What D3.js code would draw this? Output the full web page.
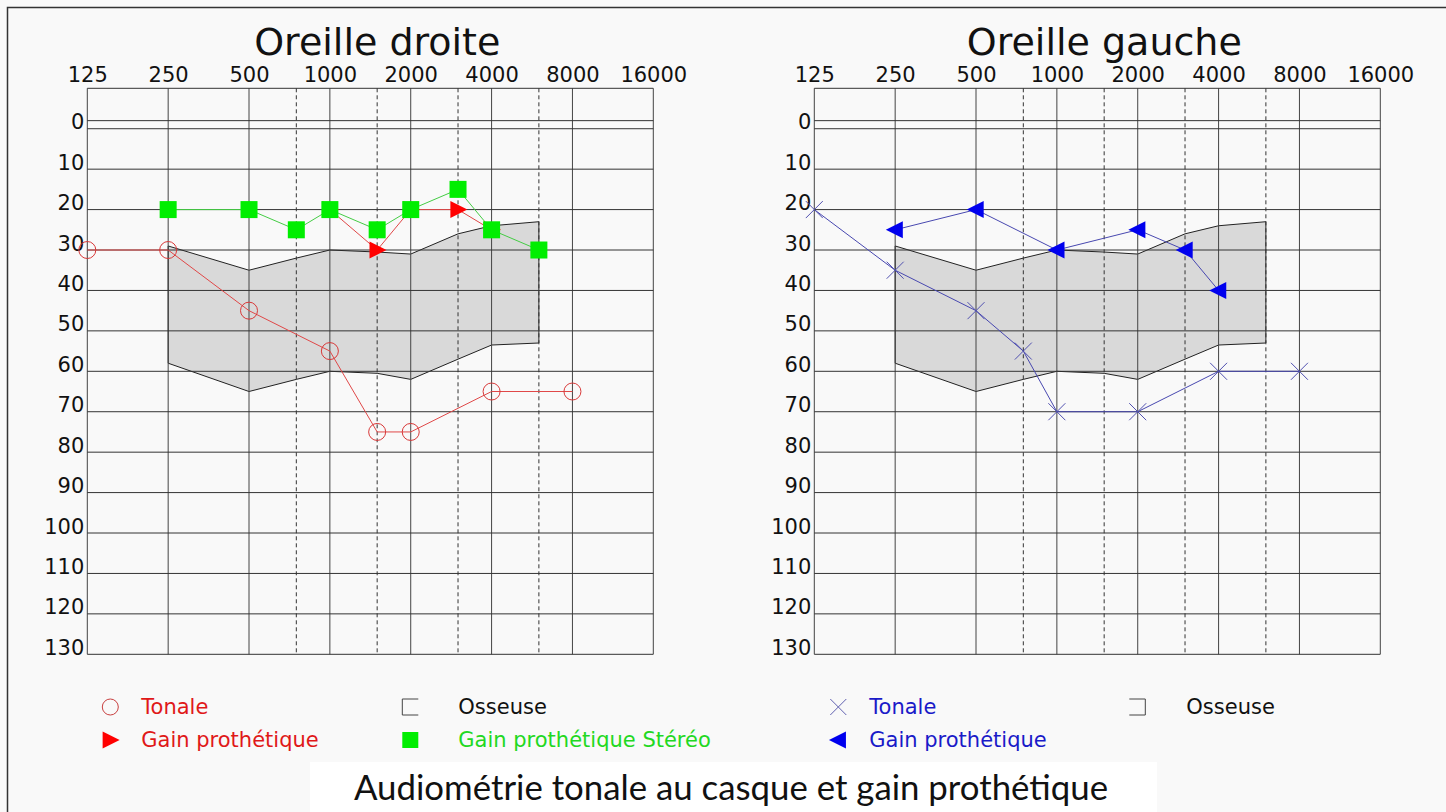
<!DOCTYPE html>
<html>
<head>
<meta charset="utf-8">
<script src="https://cdn.jsdelivr.net/npm/d3@7"></script>
<style>
	body { margin: 0; background: #f9f9f9; }
	svg { display: block; font-family: 'DejaVu Sans', sans-serif; }
	.tick text { font-family: 'DejaVu Sans', sans-serif; font-size: 21px; fill: #111; }
</style>
</head>
<body>
<svg width="1446" height="812"></svg>
<script>
// frequencies (Hz) and hearing levels (dB)
const freqTicks = [125, 250, 500, 1000, 2000, 4000, 8000, 16000];
const halfOctaves = [750, 1500, 3000, 6000];
const dbTicks = [0, 10, 20, 30, 40, 50, 60, 70, 80, 90, 100, 110, 120, 130];

// grey speech zone
const zoneFreqs = [250, 500, 750, 1000, 1500, 2000, 3000, 4000, 6000];
const zoneTop = [29, 35, 32, 30, 30.5, 31, 26, 24, 23];
const zoneBottom = [58, 65, 62, 60, 60.5, 62, 57, 53.5, 53];

// right ear
const rightToneFreqs = [125, 250, 500, 1000, 1500, 2000, 4000, 8000];
const rightToneDb = [30, 30, 45, 55, 75, 75, 65, 65];
const rightGainFreqs = [1000, 1500, 2000, 3000, 4000];
const rightGainDb = [20, 30, 20, 20, 25];
const stereoFreqs = [250, 500, 750, 1000, 1500, 2000, 3000, 4000, 6000];
const stereoDb = [20, 20, 25, 20, 25, 20, 15, 25, 30];

// left ear
const leftToneFreqs = [125, 250, 500, 750, 1000, 2000, 4000, 8000];
const leftToneDb = [20, 35, 45, 55, 70, 70, 60, 60];
const leftGainFreqs = [250, 500, 1000, 2000, 3000, 4000];
const leftGainDb = [25, 20, 30, 25, 30, 40];

const zip = (fs, ds) => fs.map((f, i) => ({f, db: ds[i]}));

const svg = d3.select('svg');
const width = +svg.attr('width');
const height = +svg.attr('height');

const size = 566;
const RED = '#ff0000', GREEN = '#00ee00', BLUE = '#0000ee';

// outer frame, runs off the right and bottom edges
svg.append('rect')
	.attr('x', 7.5).attr('y', 7.5)
	.attr('width', width).attr('height', height)
	.attr('fill', '#f9f9f9')
	.attr('stroke', '#333')
	.attr('stroke-width', 1.5);

const xScale = d3.scaleLog().base(2)
	.domain([125, 16000])
	.range([0, size]);

const yScale = d3.scaleLinear()
	.domain([-10, 130])
	.range([0, size]);

const trianglePath = (dir, s) => dir > 0
	? `M${-s * 0.45},${-s / 2}L${s * 0.55},0L${-s * 0.45},${s / 2}Z`
	: `M${s * 0.45},${-s / 2}L${-s * 0.55},0L${s * 0.45},${s / 2}Z`;

const drawPanel = (x0, title) => {
	const g = svg.append('g')
		.attr('transform', `translate(${x0}, 88.3)`);

	g.append('text')
		.attr('x', size / 2 + 7)
		.attr('y', -33)
		.attr('text-anchor', 'middle')
		.attr('font-size', 38)
		.attr('fill', '#111')
		.text(title);

	const zone = zoneFreqs.map((f, i) => [xScale(f), yScale(zoneTop[i])])
		.concat(zoneFreqs.map((f, i) => [xScale(f), yScale(zoneBottom[i])]).reverse());
	g.append('path')
		.attr('d', d3.line()(zone) + 'Z')
		.attr('fill', '#d9d9d9')
		.attr('stroke', '#222')
		.attr('stroke-width', 1);

	g.selectAll('.vgrid').data(freqTicks).enter().append('line')
		.attr('x1', d => xScale(d)).attr('x2', d => xScale(d))
		.attr('y1', 0).attr('y2', size)
		.attr('stroke', '#444').attr('stroke-width', 1);

	g.selectAll('.vhalf').data(halfOctaves).enter().append('line')
		.attr('x1', d => xScale(d)).attr('x2', d => xScale(d))
		.attr('y1', 0).attr('y2', size)
		.attr('stroke', '#333').attr('stroke-width', 1)
		.attr('stroke-dasharray', '4,3');

	g.selectAll('.hgrid').data([-10, -2].concat(dbTicks)).enter().append('line')
		.attr('x1', 0).attr('x2', size)
		.attr('y1', d => yScale(d)).attr('y2', d => yScale(d))
		.attr('stroke', '#333').attr('stroke-width', 1);

	const xAxisG = g.append('g')
		.call(d3.axisTop(xScale)
			.tickValues(freqTicks)
			.tickFormat(d3.format('d'))
			.tickSize(0)
			.tickPadding(6));
	xAxisG.select('.domain').remove();

	const yAxisG = g.append('g')
		.call(d3.axisLeft(yScale)
			.tickValues(dbTicks)
			.tickSize(0)
			.tickPadding(3));
	yAxisG.select('.domain').remove();
	yAxisG.selectAll('text').attr('dy', 0);

	return g;
};

const lineGen = d3.line()
	.x(d => xScale(d.f))
	.y(d => yScale(d.db));

// Oreille droite
const gR = drawPanel(87.3, 'Oreille droite');
const rightTone = zip(rightToneFreqs, rightToneDb);
const rightGain = zip(rightGainFreqs, rightGainDb);
const stereo = zip(stereoFreqs, stereoDb);

gR.append('path').attr('d', lineGen(rightTone))
	.attr('fill', 'none').attr('stroke', '#e04848').attr('stroke-width', 1);
gR.selectAll('.tone').data(rightTone).enter().append('circle')
	.attr('cx', d => xScale(d.f)).attr('cy', d => yScale(d.db))
	.attr('r', 8.5)
	.attr('fill', 'none').attr('stroke', '#d83838').attr('stroke-width', 1);

gR.append('path').attr('d', lineGen(rightGain))
	.attr('fill', 'none').attr('stroke', '#e04848').attr('stroke-width', 1);
gR.append('path').attr('d', lineGen(stereo))
	.attr('fill', 'none').attr('stroke', '#44cc44').attr('stroke-width', 1);
gR.selectAll('.gain').data(rightGain).enter().append('path')
	.attr('transform', d => `translate(${xScale(d.f)}, ${yScale(d.db)})`)
	.attr('d', trianglePath(1, 17))
	.attr('fill', RED);
gR.selectAll('.stereo').data(stereo).enter().append('rect')
	.attr('x', d => xScale(d.f) - 8.5).attr('y', d => yScale(d.db) - 8.5)
	.attr('width', 17).attr('height', 17)
	.attr('fill', GREEN);

// Oreille gauche
const gL = drawPanel(814.3, 'Oreille gauche');
const leftTone = zip(leftToneFreqs, leftToneDb);
const leftGain = zip(leftGainFreqs, leftGainDb);

gL.append('path').attr('d', lineGen(leftTone))
	.attr('fill', 'none').attr('stroke', '#4848b0').attr('stroke-width', 1);
gL.selectAll('.tone').data(leftTone).enter().append('path')
	.attr('transform', d => `translate(${xScale(d.f)}, ${yScale(d.db)})`)
	.attr('d', 'M-8.5,-8.5L8.5,8.5M-8.5,8.5L8.5,-8.5')
	.attr('stroke', '#5050b0').attr('stroke-width', 1);
gL.append('path').attr('d', lineGen(leftGain))
	.attr('fill', 'none').attr('stroke', '#4848b0').attr('stroke-width', 1);
gL.selectAll('.gain').data(leftGain).enter().append('path')
	.attr('transform', d => `translate(${xScale(d.f)}, ${yScale(d.db)})`)
	.attr('d', trianglePath(-1, 17))
	.attr('fill', BLUE);

// legends
const legend = (x0, items) => {
	const lg = svg.append('g').attr('transform', `translate(${x0}, 0)`);
	items.forEach(it => {
		const s = lg.append('g').attr('transform', `translate(${it.sx}, ${it.y})`);
		it.sym(s);
		lg.append('text')
			.attr('x', it.tx).attr('y', it.y + 7)
			.attr('font-size', 21)
			.attr('fill', it.color)
			.text(it.label);
	});
};

legend(87.3, [
	{sx: 23, tx: 54, y: 707, color: '#e01818', label: 'Tonale',
		sym: s => s.append('circle').attr('r', 8).attr('fill', 'none').attr('stroke', '#c84040')},
	{sx: 23, tx: 54, y: 740, color: '#e01818', label: 'Gain prothétique',
		sym: s => s.append('path').attr('d', trianglePath(1, 17)).attr('fill', RED)},
	{sx: 323, tx: 371, y: 707, color: '#111', label: 'Osseuse',
		sym: s => s.append('path').attr('d', 'M8,-8H-8V8H8').attr('fill', 'none').attr('stroke', '#444')},
	{sx: 323, tx: 371, y: 740, color: '#22d822', label: 'Gain prothétique Stéréo',
		sym: s => s.append('rect').attr('x', -8).attr('y', -8).attr('width', 16).attr('height', 16).attr('fill', GREEN)}
]);

legend(814.3, [
	{sx: 24, tx: 55, y: 707, color: '#1a1ac8', label: 'Tonale',
		sym: s => s.append('path').attr('d', 'M-8,-8L8,8M-8,8L8,-8').attr('stroke', '#6060b0')},
	{sx: 24, tx: 55, y: 740, color: '#1a1ac8', label: 'Gain prothétique',
		sym: s => s.append('path').attr('d', trianglePath(-1, 17)).attr('fill', BLUE)},
	{sx: 323, tx: 372, y: 707, color: '#111', label: 'Osseuse',
		sym: s => s.append('path').attr('d', 'M-8,-8H8V8H-8').attr('fill', 'none').attr('stroke', '#444')}
]);

// caption
svg.append('rect')
	.attr('x', 310).attr('y', 762)
	.attr('width', 847).attr('height', 50)
	.attr('fill', '#ffffff');
svg.append('text')
	.attr('x', 731).attr('y', 800)
	.attr('text-anchor', 'middle')
	.attr('font-family', 'Lato, sans-serif')
	.attr('font-size', 34)
	.attr('fill', '#111')
	.attr('textLength', 754)
	.attr('lengthAdjust', 'spacingAndGlyphs')
	.text('Audiométrie tonale au casque et gain prothétique');
</script>
</body>
</html>
